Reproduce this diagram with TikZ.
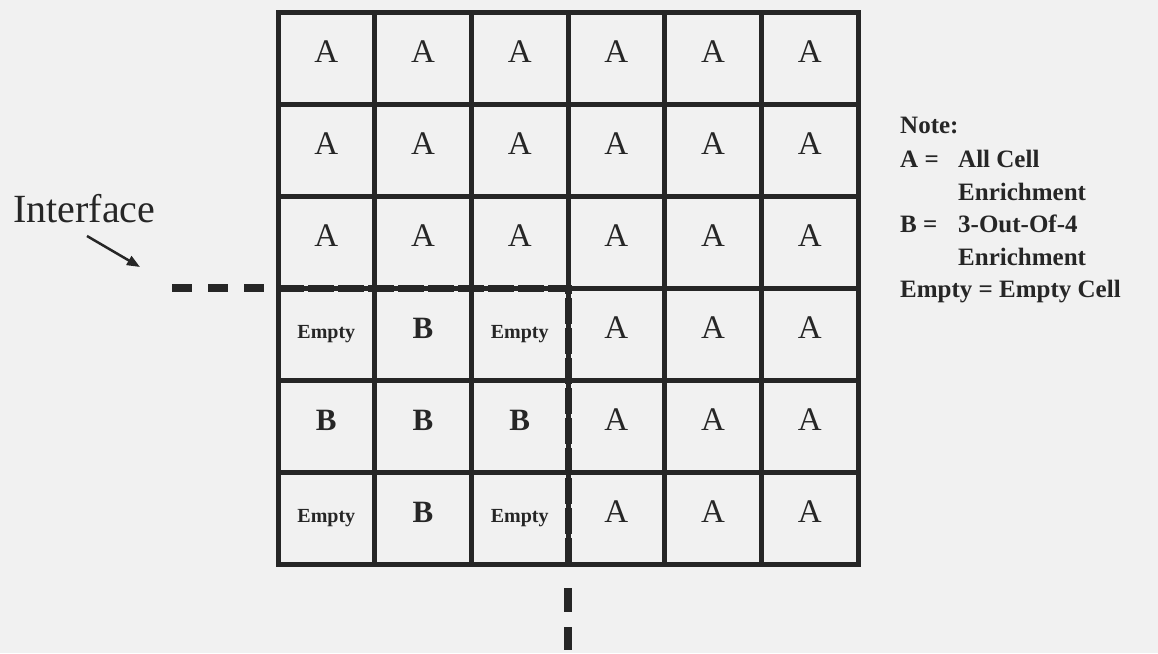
\documentclass[tikz,border=0pt]{standalone}
\usepackage{fontspec}
\setmainfont{Liberation Serif}
\usetikzlibrary{arrows.meta}
\definecolor{bg}{RGB}{241,241,241}
\definecolor{ink}{RGB}{38,38,38}
\newcommand\labA{A}
\newcommand\labB{B}
\newcommand\labE{Empty}
\newcommand\cellrow[2]{%
  \foreach \kind [count=\col from 0] in {#2}{%
    \node[cell\kind] (c#1\col) at ({326.33+96.667*\col},{62+92*#1}) {\csname lab\kind\endcsname};
  }%
}
\begin{document}
\begin{tikzpicture}[x=1pt,y=-1pt,
  cellA/.style={anchor=base,inner sep=0pt,text=ink,font=\fontsize{33}{36}\selectfont},
  cellB/.style={anchor=base,inner sep=0pt,text=ink,font=\fontsize{31}{34}\selectfont\bfseries},
  cellE/.style={anchor=base,inner sep=0pt,text=ink,font=\fontsize{20}{24}\selectfont\bfseries},
  gridline/.style={draw=ink,line width=5pt,line cap=rect},
  ifc/.style={draw=ink,line width=8pt},
  notetext/.style={anchor=base west,inner sep=0pt,text=ink,font=\fontsize{25}{30}\selectfont\bfseries},
  lbl/.style={anchor=base west,inner sep=0pt,text=ink,font=\fontsize{40}{44}\selectfont}
]
\fill[bg] (0,0) rectangle (1158,653);
\useasboundingbox (0,0) rectangle (1158,653);

% grid
\draw[gridline] (278,12) rectangle (858,564);
\foreach \i in {1,...,5}{
  \draw[gridline] ({278+96.667*\i},12) -- ({278+96.667*\i},564);
  \draw[gridline] (278,{12+92*\i}) -- (858,{12+92*\i});
}

% cell labels
\cellrow{0}{A,A,A,A,A,A}
\cellrow{1}{A,A,A,A,A,A}
\cellrow{2}{A,A,A,A,A,A}
\cellrow{3}{E,B,E,A,A,A}
\cellrow{4}{B,B,B,A,A,A}
\cellrow{5}{E,B,E,A,A,A}

% interface line
\coordinate (i0) at (172,288);
\coordinate (i1) at (270,288);
\coordinate (i2) at (278,288);
\coordinate (i3) at (568,288);
\coordinate (i4) at (568,564);
\coordinate (i5) at (568,588);
\coordinate (i6) at (568,612);
\coordinate (i7) at (568,627);
\coordinate (i8) at (568,650);
\draw[ifc,dash pattern=on 20pt off 16pt] (i0) -- (i1);
\draw[draw=ink,line width=7pt,dash pattern=on 26pt off 4pt] (i2) -- (i3) -- (i4);
\draw[ifc] (i5) -- (i6);
\draw[ifc] (i7) -- (i8);

% interface label and arrow
\node[lbl] (ifl) at (13,222) {Interface};
\coordinate (a0) at (87,236);
\coordinate (a1) at (140,267);
\draw[draw=ink,line width=2.5pt,-{Triangle[length=13pt,width=10pt]}] (a0) -- (a1);

% note
\node[notetext] (n0) at (900,133) {Note:};
\node[notetext] (n1) at (900,167) {A =};
\node[notetext] (n2) at (958,167) {All Cell};
\node[notetext] (n3) at (958,200) {Enrichment};
\node[notetext] (n4) at (900,232) {B =};
\node[notetext] (n5) at (958,232) {3-Out-Of-4};
\node[notetext] (n6) at (958,265) {Enrichment};
\node[notetext] (n7) at (900,297) {Empty = Empty Cell};
\end{tikzpicture}
\end{document}
